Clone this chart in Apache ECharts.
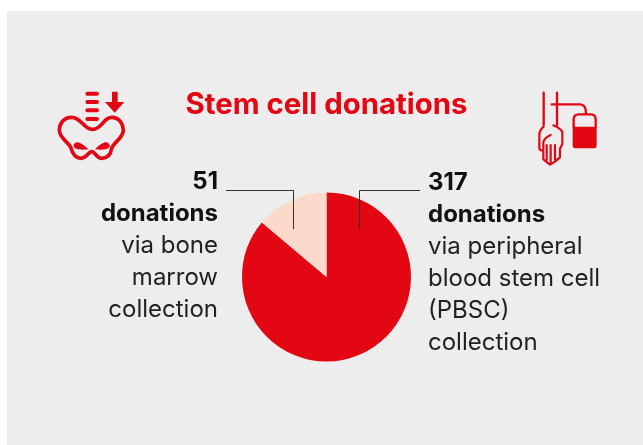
<!DOCTYPE html>
<html lang="en">
<head>
    <meta charset="UTF-8">
    <title>Stem cell donations</title>
    <script src="https://cdnjs.cloudflare.com/ajax/libs/echarts/6.0.0/echarts.min.js"></script>
    <style>
        html, body { margin: 0; padding: 0; background: #fff; }
    </style>
</head>
<body>
    <div id="main" style="width: 643px; height: 445px"></div>
    <script type="text/javascript">
        var titleText = 'Stem cell donations';
        var categories = ['PBSC', 'Bone marrow'];
        var values = [317, 51];
        var boldLines = [['317', 'donations'], ['51', 'donations']];
        var plainLines = [
            ['via peripheral', 'blood stem cell', '(PBSC)', 'collection'],
            ['via bone', 'marrow', 'collection']
        ];
        var colors = ['#e30613', '#fbd9cb'];

        var RED = '#e30613';
        var FONT = 'Inter';

        // anchors for the two text blocks and their leader lines
        var labelPlace = [
            { x: 428, y: 167, align: 'left', line: [[420, 190.5], [359.5, 190.5], [359.5, 229]] },
            { x: 218, y: 165.5, align: 'right', line: [[226, 190.5], [293.5, 190.5], [293.5, 229]] }
        ];

        // icons, drawn in 3x units and scaled down
        var iconPaths = {
            pelvisOutline: 'M95 142C125 142 130 178 158 178C186 178 190 142 215 142C240 142 250 165 250 180C250 205 222 215 215 235C212 255 200 265 185 265C170 265 165 245 155 245C145 245 140 265 122 265C105 265 97 250 92 232C85 215 58 205 58 180C58 160 72 142 95 142Z',
            pelvisBars: 'M142 71H171M142 96H171M142 121H171M142 147H171',
            pelvisFill: 'M100 228C105 212 118 212 145 238C125 240 105 240 100 228ZM210 228C205 212 190 212 165 238C185 240 205 240 210 228ZM216 65H233V96H253L224 128L195 96H216Z',
            bagLines: 'M101 38V135M141 38V135M125 73H210Q228 73 228 100M191 140V118Q191 103 206 103H243Q257 103 257 118V140',
            bagFill: 'M188 140H260V198Q260 205 253 205H195Q188 205 188 198Z',
            hand: 'M101 140Q88 150 88 167V205Q88 212 100 212V238L120 254L135 245L150 232V206L157 192V158Q157 148 130 136M110 195V240M122 195V252M135 195V240M100 210V190Q100 175 122 165'
        };
        Object.keys(iconPaths).forEach(function (k) {
            echarts.graphic.registerShape(k, echarts.graphic.extendPath(iconPaths[k]));
        });

        function icon(x, y, name, style) {
            return { type: name, x: x, y: y, scaleX: 1 / 3, scaleY: 1 / 3, silent: true, style: style };
        }
        var strokeStyle = function (w) {
            return { fill: 'none', stroke: RED, lineWidth: w, lineCap: 'round', lineJoin: 'round' };
        };
        function leader(points) {
            return {
                type: 'polyline',
                z: 20,
                silent: true,
                shape: { points: points },
                style: { fill: 'none', stroke: '#333', lineWidth: 1 }
            };
        }

        var myChart = echarts.init(document.getElementById('main'), null, { renderer: 'canvas' });
        myChart.setOption({
            animation: false,
            title: {
                text: titleText,
                left: 321.5,
                top: 86,
                textAlign: 'center',
                textStyle: { color: RED, fontFamily: FONT, fontWeight: 700, fontSize: 29.4 }
            },
            graphic: [
                { type: 'rect', z: -10, silent: true, shape: { x: 7, y: 11, width: 636, height: 434 }, style: { fill: '#ededed' } },
                icon(40, 70, 'pelvisOutline', strokeStyle(11)),
                icon(40, 70, 'pelvisBars', strokeStyle(12)),
                icon(40, 70, 'pelvisFill', { fill: RED }),
                icon(510, 80, 'bagLines', strokeStyle(7)),
                icon(510, 80, 'bagFill', { fill: RED }),
                icon(510, 80, 'hand', strokeStyle(6.5)),
                leader(labelPlace[0].line),
                leader(labelPlace[1].line)
            ],
            series: [{
                type: 'pie',
                center: [326.5, 277],
                radius: [0, 84.5],
                startAngle: 90,
                clockwise: true,
                silent: true,
                data: categories.map(function (name, i) {
                    return { name: name, value: values[i], itemStyle: { color: colors[i] } };
                }),
                label: {
                    show: true,
                    formatter: function (p) {
                        var i = p.dataIndex;
                        return boldLines[i].map(function (s) { return '{b|' + s + '}'; })
                            .concat(plainLines[i].map(function (s) { return '{r|' + s + '}'; }))
                            .join('\n');
                    },
                    rich: {
                        b: { fontFamily: FONT, fontWeight: 700, fontSize: 24, lineHeight: 32, color: '#111' },
                        r: { fontFamily: FONT, fontWeight: 400, fontSize: 24, lineHeight: 32, color: '#222' }
                    }
                },
                labelLine: { show: false },
                labelLayout: function (p) {
                    var place = labelPlace[p.dataIndex];
                    return { x: place.x, y: place.y, align: place.align, verticalAlign: 'top' };
                }
            }]
        });
    </script>
</body>
</html>
